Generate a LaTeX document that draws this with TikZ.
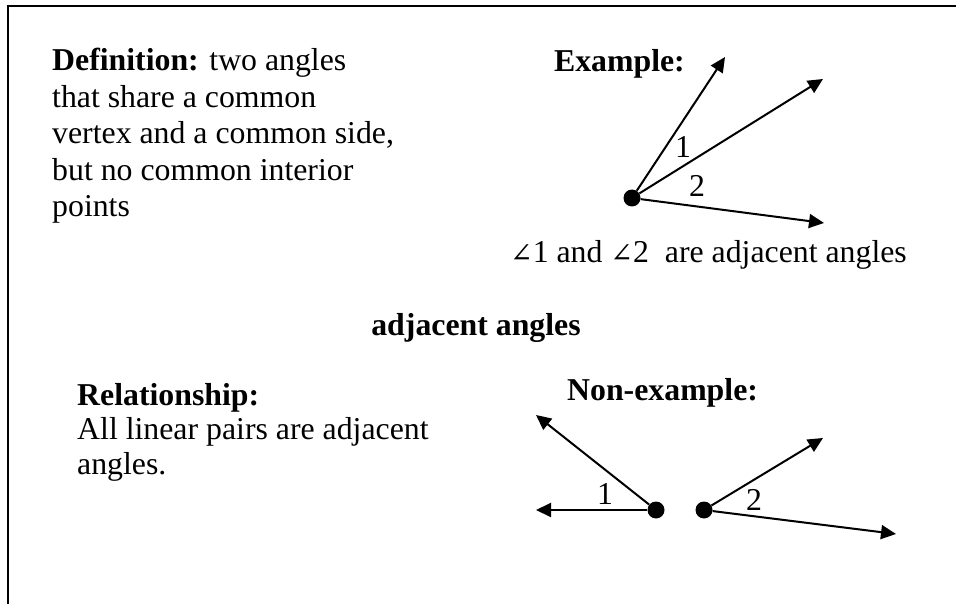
\documentclass[tikz,border=0pt]{standalone}
\usepackage{fontspec}
\setmainfont{Liberation Serif}
\newfontfamily\anglefont{DejaVu Serif}
\usepackage{tikz}
\usetikzlibrary{arrows.meta,positioning}

\begin{document}
\begin{tikzpicture}[
			x=1pt,y=-1pt,
			txt/.style={
				inner sep=0pt,
				align=left,
				font=\fontsize{31.8}{36.5}\selectfont
			},
			dot/.style={
				circle,
				fill=black,
				minimum size=17pt,
				inner sep=0pt
			},
			ray/.style={
				line width=2pt,
				-{Triangle[length=15pt,width=14pt]}
			},
			num/.style={
				inner sep=0pt,
				font=\fontsize{31.8}{36.5}\selectfont
			}
			]
			\useasboundingbox (0,0) rectangle (956,604);
			\draw[line width=2pt] (8,604) -- (8,6) -- (956,6);

			\node[txt,anchor=base west] (def) at (52,217) {
				\textbf{Definition:} two angles\\
				that share a common\\
				vertex and a common side,\\
				but no common interior\\
				points
			};
			\node[txt,anchor=base east] (ex) at (685,72) {\textbf{Example:}};
			\node[txt,anchor=base east] (exnote) at (907,262) {{\anglefont\fontsize{27}{30}\selectfont ∠}1 and {\anglefont\fontsize{27}{30}\selectfont ∠}2\ \ are adjacent angles};
			\node[txt,anchor=base] (title) at (476,335) {\textbf{adjacent angles}};
			\node[txt,anchor=base west,font=\fontsize{31.8}{34.5}\selectfont] (rel) at (77,474) {
				\textbf{Relationship:}\\
				All linear pairs are adjacent\\
				angles.
			};
			\node[txt,anchor=base west] (nonex) at (567,400) {\textbf{Non-example:}};

			\node[dot] (v1) at (632,198) {};
			\coordinate (a1) at (725,57);
			\coordinate (b1) at (823,79);
			\coordinate (c1) at (824,223);
			\draw[ray] (v1) -- (a1);
			\draw[ray] (v1) -- (b1);
			\draw[ray] (v1) -- (c1);
			\node[num] (one) at (683,147) {1};
			\node[num] (two) at (697,186) {2};

			\node[dot] (v2) at (656,510) {};
			\coordinate (a2) at (536,415);
			\coordinate (b2) at (536,510);
			\draw[ray] (v2) -- (a2);
			\draw[ray] (v2) -- (b2);
			\node[num] (onex) at (605,494) {1};

			\node[dot] (v3) at (704,510) {};
			\coordinate (a3) at (823,438);
			\coordinate (b3) at (896,534);
			\draw[ray] (v3) -- (a3);
			\draw[ray] (v3) -- (b3);
			\node[num] (twox) at (754,500) {2};
		\end{tikzpicture}
\end{document}
